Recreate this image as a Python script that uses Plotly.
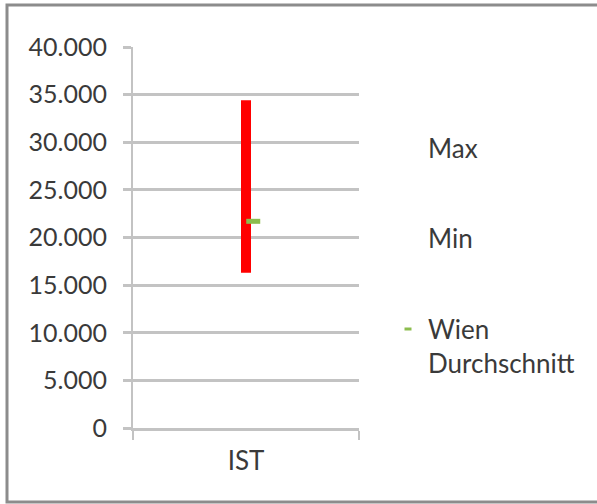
import plotly.graph_objects as go

# ---- data ----
categories = ["IST"]
max_values = [34400]
min_values = [16300]
avg_values = [21700]
series_names = ["Max", "Min", "Wien<br>Durchschnitt"]

# ---- style ----
W, H = 597, 504
ML, MR, MT, MB = 133, 238, 47, 76
FONT = "Lato"
TXT = "#3a3a3a"
GRID = "#c3c3c3"
RED = "#ff0000"
GREEN = "#8cbd4e"

idx = list(range(len(categories)))
boundaries = [i - 0.5 for i in idx] + [idx[-1] + 0.5]

fig = go.Figure()

# high-low range line (from min to max)
for i in idx:
    fig.add_trace(go.Scatter(
        x=[i, i], y=[min_values[i], max_values[i]], mode="lines",
        line=dict(color=RED, width=10), showlegend=False, hoverinfo="skip"))

fig.add_trace(go.Scatter(
    x=idx, y=max_values, name=series_names[0], mode="lines",
    line=dict(color="rgba(0,0,0,0)"), legendgroup="max"))
fig.add_trace(go.Scatter(
    x=idx, y=min_values, name=series_names[1], mode="lines",
    line=dict(color="rgba(0,0,0,0)"), legendgroup="min"))
# average marker in the plot
fig.add_trace(go.Scatter(
    x=[i + 0.032 for i in idx], y=avg_values, name=series_names[2], mode="markers",
    marker=dict(symbol="line-ew", size=10, color=GREEN,
                line=dict(width=5, color=GREEN)),
    legendgroup="avg", showlegend=False))
# legend entry for the average (smaller symbol, like the original)
fig.add_trace(go.Scatter(
    x=[None], y=[None], name=series_names[2], mode="markers",
    marker=dict(symbol="line-ew", size=5, color=GREEN,
                line=dict(width=3, color=GREEN)),
    legendgroup="avg", showlegend=True))

pw = W - ML - MR
ph = H - MT - MB
def px2x(p):
    return (p - ML) / pw
def px2y(p):
    return (H - MB - p) / ph

fig.add_shape(type="rect", xref="paper", yref="paper",
              x0=px2x(7), x1=px2x(610), y0=px2y(502), y1=px2y(5),
              line=dict(color="#8c8c8c", width=3), fillcolor="rgba(0,0,0,0)",
              layer="below")

fig.update_layout(
    width=W, height=H,
    margin=dict(l=ML, r=MR, t=MT, b=MB),
    paper_bgcolor="white", plot_bgcolor="white",
    separators=",.",
    font=dict(family=FONT, size=26, color=TXT),
    showlegend=True,
    legend=dict(
        xref="container", yref="container",
        x=388 / W, y=1 - 124 / H, xanchor="left", yanchor="top",
        itemwidth=30, tracegroupgap=54, valign="top",
        bgcolor="rgba(0,0,0,0)", traceorder="grouped",
        maxheight=480,
        font=dict(family=FONT, size=26, color=TXT),
    ),
    xaxis=dict(
        range=[boundaries[0], boundaries[-1]],
        tickvals=idx, ticktext=categories, ticks="",
        showgrid=False, zeroline=False,
        showline=True, linecolor=GRID, linewidth=3,
        ticklabelstandoff=8,
        minor=dict(tickvals=boundaries, ticks="outside", ticklen=9,
                   tickcolor=GRID, tickwidth=2, showgrid=False),
        tickfont=dict(family=FONT, size=26, color=TXT),
    ),
    yaxis=dict(
        range=[0, 40000], dtick=5000, tickformat=",d",
        showgrid=True, gridcolor=GRID, gridwidth=3,
        zeroline=False,
        showline=True, linecolor=GRID, linewidth=2,
        ticks="outside", ticklen=8, tickcolor=GRID, tickwidth=3,
        ticklabelstandoff=11,
        tickfont=dict(family=FONT, size=25, color=TXT),
    ),
)

fig.write_html("out.html", config={"displayModeBar": False},
               post_script="document.body.style.margin='0';")
